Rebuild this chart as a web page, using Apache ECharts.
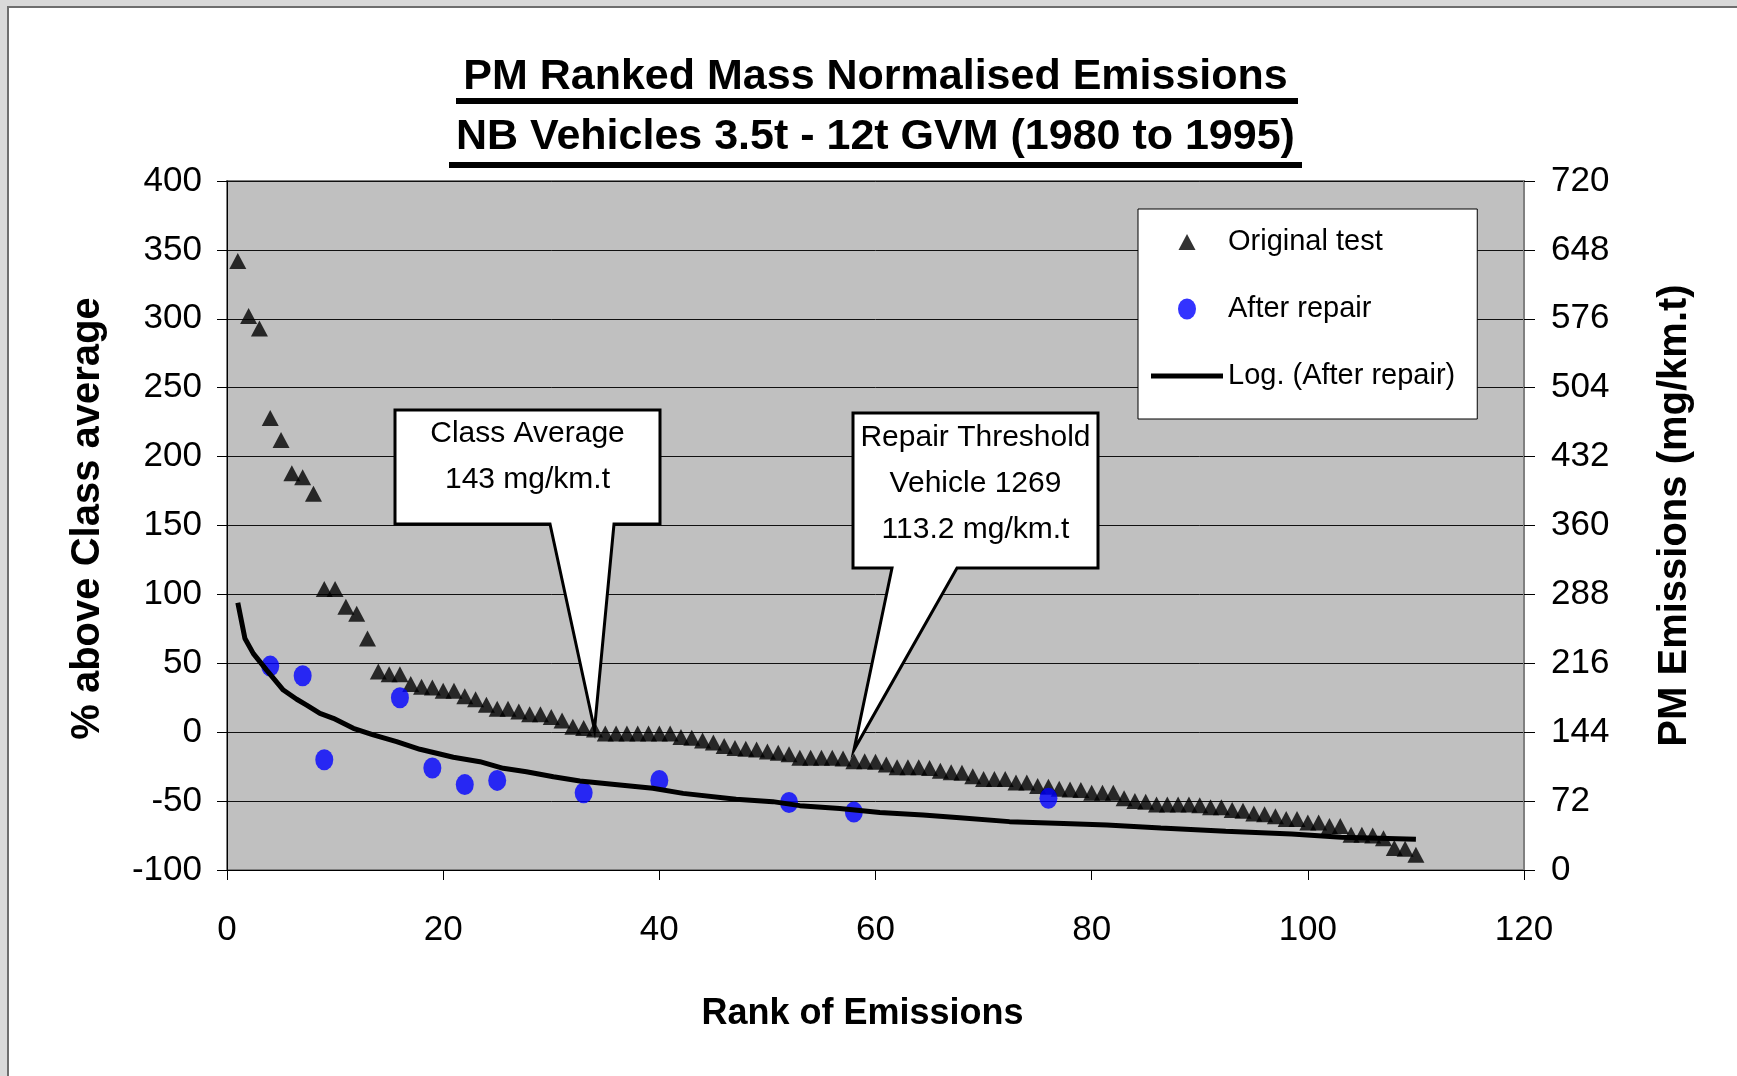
<!DOCTYPE html>
<html><head><meta charset="utf-8">
<script src="https://cdn.jsdelivr.net/npm/echarts@6/dist/echarts.min.js"></script>
<style>
html,body{margin:0;padding:0;background:#d9d9d9;width:1737px;height:1076px;overflow:hidden}
#panel{position:absolute;left:7px;top:6px;width:1730px;height:1070px;background:#fff;border-left:2px solid #6e6e6e;border-top:2px solid #6e6e6e}
#chart{position:absolute;left:0;top:0;width:1737px;height:1076px}
</style></head><body><div id="panel"></div><div id="chart"></div>
<script>
const FONT = '"Liberation Sans", Arial, Helvetica, sans-serif';

const titleLines = ['PM Ranked Mass Normalised Emissions', 'NB Vehicles 3.5t - 12t GVM (1980 to 1995)'];
const xAxisTitle = 'Rank of Emissions';
const yAxisTitle = '% above Class average';
const y2AxisTitle = 'PM Emissions (mg/km.t)';
const seriesNames = ['Original test', 'After repair', 'Log. (After repair)'];

// Original test: rank and % above class average
const originalRank = [1,2,3,4,5,6,7,8,9,10,11,12,13,14,15,16,17,18,19,20,21,22,23,24,25,26,27,28,29,30,
  31,32,33,34,35,36,37,38,39,40,41,42,43,44,45,46,47,48,49,50,51,52,53,54,55,56,57,58,59,60,
  61,62,63,64,65,66,67,68,69,70,71,72,73,74,75,76,77,78,79,80,81,82,83,84,85,86,87,88,89,90,
  91,92,93,94,95,96,97,98,99,100,101,102,103,104,105,106,107,108,109,110];
const originalValue = [342,302,293,228,212,188,185,173,104,104,91,86,68,44,42,42,35,33,32.5,30,
  30,26,24,20,17,17,15,13,13,11,8.5,4,3,2,-1,-1,-1,-1,-1,-1,
  -1,-3.5,-4,-6,-7.5,-10,-11.5,-12,-12.5,-14,-15,-16,-18.5,-18.5,-18.5,-18.5,-19,-21,-21,-21.5,
  -23.5,-25.5,-25.5,-25.5,-26,-28,-29,-29.5,-32,-34,-34,-34,-36.5,-36.5,-39,-39.5,-41,-41.5,-42,-44,
  -44,-44,-48,-50,-50.5,-52.5,-52.5,-52.5,-52.5,-53,-54.5,-54.5,-56.5,-57,-59,-59.5,-61,-63,-63,-65.5,
  -65.5,-68,-68,-74.5,-74.5,-75,-77,-84,-84.5,-89];

// After repair
const repairRank = [4,7,9,16,19,22,25,33,40,52,58,76];
const repairValue = [48,41,-20,25,-26,-38,-35,-44,-35,-51,-58,-48];

// Logarithmic trend line
const trendRank = [1,1.66,2.44,3.67,5.21,6.45,7.37,8.6,9.84,11.69,13.53,15.69,17.85,20.94,23.4,25.56,27.7,30.2,32.65,36.35,39.4,42.2,47.1,50.5,53,56.7,60.4,64.4,67.8,72.4,77.4,81.4,86.4,92.4,98.5,103.1,110];
const trendValue = [94,68,57,45,30.6,23.9,19.7,13.7,10.1,2.8,-2,-6.9,-12.4,-18.2,-21.4,-26.2,-28.7,-32.3,-35.4,-38.3,-40.7,-44.4,-48.7,-50.4,-53.3,-55.3,-58.2,-60.1,-62,-64.9,-66.3,-67.4,-69.5,-71.8,-73.9,-76.2,-77.7];

// Axis scales
const xMin = 0, xMax = 120, xStep = 20;
const yMin = -100, yMax = 400, yStep = 50;
const y2Min = 0, y2Max = 720, y2Step = 72;

// Callout annotations
const calloutText = [['Class Average', '143 mg/km.t'], ['Repair Threshold', 'Vehicle 1269', '113.2 mg/km.t']];
const calloutRank = [34, 58];
const calloutValue = [2, -13];

const chart = echarts.init(document.getElementById('chart'), null, {renderer: 'canvas'});

const axisNameStyle = {fontFamily: FONT, fontWeight: 'bold', fontSize: 40, color: '#000'};
const tickLabelStyle = {fontFamily: FONT, fontSize: 35, color: '#000'};

// legend icons drawn in a 72x21 box (corner points fix the box size)
const BOX = 'M0,0L0,0M72,21L72,21';
const iconTriangle = 'path://' + BOX + 'M36,2.5L44.5,18.5L27.5,18.5Z';
const iconEllipse = 'path://' + BOX + 'M27,10.5A9,10.5 0 1,1 45,10.5A9,10.5 0 1,1 27,10.5Z';
const iconBar = 'path://' + BOX + 'M0,8L72,8L72,13L0,13Z';

chart.setOption({
  animation: false,
  backgroundColor: 'transparent',
  grid: {left: 227, right: 213, top: 181, bottom: 206, show: true, backgroundColor: '#c0c0c0',
         borderColor: '#808080', borderWidth: 2, containLabel: false, outerBoundsMode: 'none'},
  legend: {
    orient: 'vertical', left: 1138, top: 209, padding: [18, 22, 28, 13],
    itemWidth: 72, itemHeight: 21, itemGap: 37,
    backgroundColor: '#fff', borderColor: '#000', borderWidth: 1,
    textStyle: {fontFamily: FONT, fontSize: 29, color: '#000', lineHeight: 30},
    data: [
      {name: seriesNames[0], icon: iconTriangle, itemStyle: {color: '#000'}},
      {name: seriesNames[1], icon: iconEllipse, itemStyle: {color: '#0000ff'}},
      {name: seriesNames[2], icon: iconBar, itemStyle: {color: '#000'}}
    ]
  },
  xAxis: {
    type: 'value', min: xMin, max: xMax, interval: xStep,
    axisLine: {show: true, onZero: false, lineStyle: {color: '#000', width: 1}},
    axisTick: {show: true, length: 10, inside: false, lineStyle: {color: '#000'}},
    axisLabel: Object.assign({margin: 43}, tickLabelStyle),
    splitLine: {show: false},
    name: xAxisTitle, nameLocation: 'middle', nameGap: 126,
    nameTextStyle: Object.assign({}, axisNameStyle, {fontSize: 36, padding: [0, 26, 0, 0]})
  },
  yAxis: [{
    type: 'value', position: 'left', min: yMin, max: yMax, interval: yStep,
    axisLine: {show: true, onZero: false, lineStyle: {color: '#000', width: 1}},
    axisTick: {show: true, length: 10, lineStyle: {color: '#000'}},
    axisLabel: Object.assign({margin: 25}, tickLabelStyle),
    splitLine: {show: true, lineStyle: {color: '#111', width: 1}},
    name: yAxisTitle, nameLocation: 'middle', nameGap: 119,
    nameTextStyle: Object.assign({}, axisNameStyle, {padding: [0, 0, 0, 14]})
  }, {
    type: 'value', position: 'right', min: y2Min, max: y2Max, interval: y2Step,
    axisLine: {show: true, onZero: false, lineStyle: {color: '#808080', width: 2}},
    axisTick: {show: true, length: 11, lineStyle: {color: '#000'}},
    axisLabel: Object.assign({margin: 27}, tickLabelStyle),
    splitLine: {show: false},
    name: y2AxisTitle, nameLocation: 'middle', nameGap: 131,
    nameTextStyle: Object.assign({}, axisNameStyle, {padding: [0, 0, 0, 20]})
  }],
  series: [{
    type: 'scatter', name: seriesNames[0], yAxisIndex: 0,
    data: originalRank.map((r, i) => [r, originalValue[i]]),
    symbol: 'triangle', symbolSize: [17, 16], itemStyle: {color: '#000'}, silent: true
  }, {
    type: 'scatter', name: seriesNames[1], yAxisIndex: 0,
    data: repairRank.map((r, i) => [r, repairValue[i]]),
    symbol: 'circle', symbolSize: [18, 21], itemStyle: {color: '#0000ff'}, silent: true
  }, {
    type: 'line', name: seriesNames[2], yAxisIndex: 0,
    data: trendRank.map((r, i) => [r, trendValue[i]]),
    symbol: 'none', showSymbol: false, smooth: false,
    lineStyle: {color: '#000', width: 5}, itemStyle: {color: '#000'}, silent: true
  }]
});

// Titles, underlines and callouts
const plotCenterX = 875.5;
const graphics = [];
const titleY = [77, 137];
const underline = [[456, 98, 842, 6], [449, 162, 853, 6]];
titleLines.forEach((t, i) => {
  graphics.push({type: 'text', x: plotCenterX, y: titleY[i], z: 100,
    style: {text: t, font: 'bold 43px ' + FONT, fill: '#000', align: 'center', verticalAlign: 'middle'}});
  const u = underline[i];
  graphics.push({type: 'rect', z: 100, shape: {x: u[0], y: u[1], width: u[2], height: u[3]}, style: {fill: '#000'}});
});

const boxes = [
  {box: [395, 410, 660, 524], base: [550, 614], textY: [434, 480]},
  {box: [853, 413, 1098, 568], base: [892, 957], textY: [438, 484, 530]}
];
boxes.forEach((b, i) => {
  const tip = chart.convertToPixel({gridIndex: 0}, [calloutRank[i], calloutValue[i]]);
  const [x0, y0, x1, y1] = b.box;
  graphics.push({type: 'polygon', z: 90,
    shape: {points: [[x0, y0], [x1, y0], [x1, y1], [b.base[1], y1], tip, [b.base[0], y1], [x0, y1]]},
    style: {fill: '#fff', stroke: '#000', lineWidth: 3, lineJoin: 'miter'}});
  calloutText[i].forEach((line, j) => {
    graphics.push({type: 'text', z: 91, x: (x0 + x1) / 2, y: b.textY[j],
      style: {text: line, font: '30px ' + FONT, fill: '#000', align: 'center', verticalAlign: 'middle'}});
  });
});
chart.setOption({graphic: graphics});
</script></body></html>
